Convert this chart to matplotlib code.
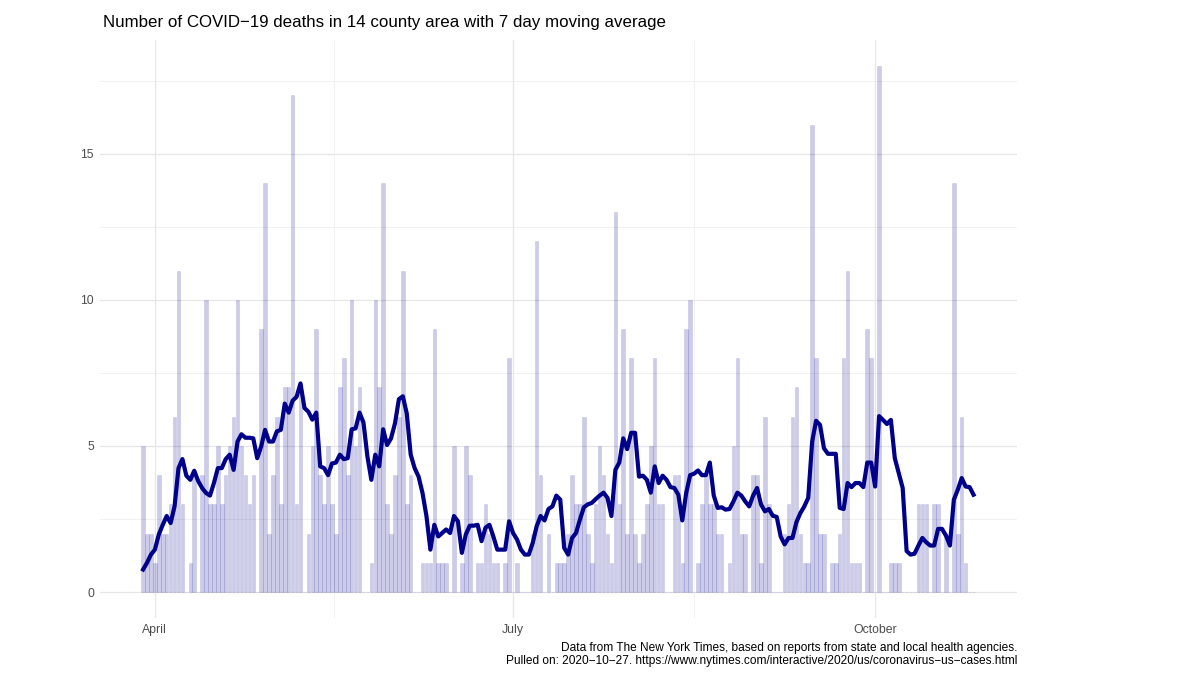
import matplotlib
matplotlib.use("Agg")
import matplotlib.pyplot as plt
import matplotlib.dates as mdates
import numpy as np
import pandas as pd

plt.rcParams['font.family'] = ['Liberation Sans', 'DejaVu Sans']

# daily deaths, 2020-03-29 .. 2020-10-26
deaths = [
    5, 2, 2, 1, 4, 2, 2, 3, 6, 11, 3, 0, 1, 4, 0, 4, 10, 3, 3, 5,
    3, 4, 5, 6, 10, 5, 4, 3, 4, 0, 9, 14, 2, 4, 6, 3, 7, 7, 17, 3,
    7, 0, 2, 5, 9, 4, 3, 5, 3, 2, 7, 8, 4, 10, 5, 7, 0, 0, 1, 10,
    7, 14, 3, 2, 4, 6, 11, 3, 4, 0, 0, 1, 1, 1, 9, 1, 1, 1, 0, 5,
    0, 1, 5, 4, 0, 1, 1, 3, 2, 1, 1, 0, 1, 8, 0, 1, 0, 0, 0, 2,
    12, 4, 0, 2, 0, 1, 1, 1, 2, 4, 3, 3, 6, 2, 1, 3, 5, 4, 2, 1,
    13, 3, 9, 2, 8, 2, 1, 2, 3, 5, 8, 3, 3, 0, 0, 4, 4, 1, 9, 10,
    0, 1, 3, 4, 3, 3, 2, 2, 0, 1, 5, 8, 2, 2, 0, 4, 4, 1, 6, 3,
    0, 0, 0, 2, 3, 6, 7, 2, 1, 1, 16, 8, 2, 2, 0, 1, 1, 2, 8, 11,
    1, 1, 1, 0, 9, 8, 0, 18, 0, 0, 1, 1, 1, 0, 0, 0, 0, 3, 3, 3,
    0, 3, 3, 0, 2, 0, 14, 2, 6, 1, 0, 0,
]

# 7 day moving average as drawn
avg7 = [
    0.77, 1.0, 1.28, 1.45, 1.97, 2.3, 2.6, 2.36, 2.93, 4.24,
    4.55, 3.98, 3.84, 4.15, 3.8, 3.56, 3.39, 3.3, 3.73, 4.24,
    4.24, 4.55, 4.7, 4.18, 5.15, 5.4, 5.28, 5.28, 5.26, 4.58,
    4.98, 5.55, 5.15, 5.15, 5.5, 5.55, 6.45, 6.14, 6.55, 6.68,
    7.14, 6.3, 6.17, 5.9, 6.14, 4.3, 4.24, 4.0, 4.4, 4.43,
    4.7, 4.55, 4.58, 5.57, 5.6, 6.14, 5.8, 4.64, 3.84, 4.7,
    4.3, 5.57, 5.03, 5.26, 5.77, 6.6, 6.7, 6.11, 4.7, 4.24,
    3.95, 3.39, 2.6, 1.45, 2.3, 1.9, 2.02, 2.14, 2.02, 2.6,
    2.42, 1.34, 1.97, 2.27, 2.27, 2.3, 1.74, 2.2, 2.3, 1.9,
    1.45, 1.45, 1.45, 2.42, 2.02, 1.8, 1.45, 1.28, 1.28, 1.68,
    2.25, 2.6, 2.45, 2.84, 2.93, 3.3, 3.16, 1.51, 1.28, 1.85,
    2.02, 2.48, 2.9, 3.0, 3.05, 3.18, 3.3, 3.4, 3.22, 2.6,
    4.18, 4.43, 5.26, 4.89, 5.45, 5.45, 3.95, 3.98, 3.84, 3.4,
    4.3, 3.73, 3.98, 3.84, 3.59, 3.56, 3.33, 2.45, 3.39, 4.0,
    4.05, 4.16, 4.0, 4.0, 4.43, 3.3, 2.88, 2.9, 2.82, 2.84,
    3.1, 3.4, 3.3, 3.1, 2.93, 3.3, 3.56, 3.0, 2.76, 2.84,
    2.61, 2.57, 1.9, 1.63, 1.85, 1.85, 2.39, 2.7, 2.93, 3.22,
    5.15, 5.86, 5.72, 4.92, 4.73, 4.73, 4.73, 2.88, 2.84, 3.73,
    3.59, 3.73, 3.73, 3.59, 4.43, 4.43, 3.61, 6.02, 5.89, 5.75,
    5.89, 4.58, 4.07, 3.56, 1.4, 1.28, 1.31, 1.59, 1.85, 1.7,
    1.59, 1.59, 2.16, 2.16, 1.93, 1.59, 3.16, 3.5, 3.9, 3.61,
    3.59, 3.33,
]

dates = pd.date_range("2020-03-29", periods=len(deaths), freq="D")

title = "Number of COVID\u221219 deaths in 14 county area with 7 day moving average"
caption = ("Data from The New York Times, based on reports from state and local health agencies.\n"
           "Pulled on: 2020\u221210\u221227. https://www.nytimes.com/interactive/2020/us/coronavirus\u2212us\u2212cases.html")

fig = plt.figure(figsize=(12, 6.75), dpi=100)
ax = fig.add_axes([0.083, 0.084, 0.7645, 0.857])

grid_col = "#e6e6e6"
ax.set_axisbelow(True)
for v in [0, 5, 10, 15]:
    ax.axhline(v, color=grid_col, lw=0.9, zorder=0)
for v in [2.5, 7.5, 12.5, 17.5]:
    ax.axhline(v, color="#efefef", lw=0.6, zorder=0)
for d in ["2020-04-01", "2020-07-01", "2020-10-01"]:
    ax.axvline(pd.Timestamp(d), color=grid_col, lw=0.9, zorder=0)
for d in ["2020-05-16 12:00", "2020-08-16"]:
    ax.axvline(pd.Timestamp(d), color="#efefef", lw=0.6, zorder=0)

ax.bar(dates, deaths, width=0.9, color=(0.0, 0.0, 0.55, 0.2),
       edgecolor=(0.0, 0.0, 0.55, 0.12), linewidth=0.5, zorder=2)
ax.plot(dates, avg7, color="#00008B", lw=3.0, solid_joinstyle="round", zorder=3)

span = (dates[-1] - dates[0]).days + 0.9
pad = pd.Timedelta(days=0.45 + 0.05 * span)
ax.set_xlim(dates[0] - pad, dates[-1] + pad)
ax.set_ylim(-0.9, 18.9)

ax.set_yticks([0, 5, 10, 15])
ax.set_xticks([pd.Timestamp("2020-04-01"), pd.Timestamp("2020-07-01"), pd.Timestamp("2020-10-01")])
ax.xaxis.set_major_formatter(mdates.DateFormatter("%B"))
ax.tick_params(length=0, labelsize=8.8, labelcolor="#4d4d4d", pad=4)
for s in ax.spines.values():
    s.set_visible(False)
ax.grid(False)

fig.text(0.086, 0.967, title, fontsize=12.2, ha="left", va="center", color="black")
fig.text(0.848, 0.03, caption, fontsize=8.55, ha="right", va="center", color="black",
         linespacing=1.1)

fig.savefig("out.png", dpi=100, facecolor="white")
